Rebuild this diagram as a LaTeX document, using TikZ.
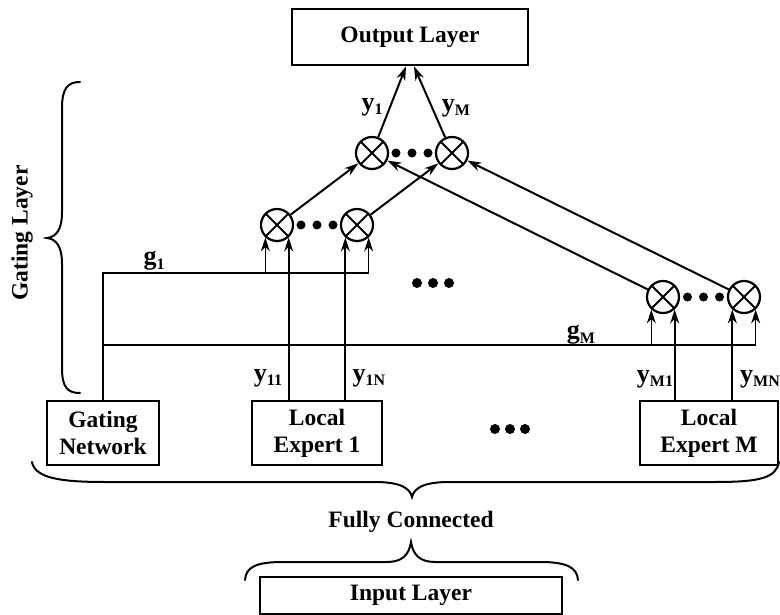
\documentclass[tikz,border=0pt]{standalone}
\usepackage{fontspec}
\setmainfont{Liberation Serif}
\usetikzlibrary{arrows.meta,calc}
% letter with a lowered subscript, as in y_11 or g_M
\newcommand\lbl[2]{#1\raisebox{-4.5pt}{\fontsize{16}{16}\selectfont #2}}
\begin{document}
\begin{tikzpicture}[x=1pt,y=-1pt,
  every node/.style={font=\fontsize{23.5}{27}\selectfont\bfseries},
  box/.style={draw,line width=2.7pt,inner sep=0pt,align=center},
  mult/.style={circle,draw,line width=2.2pt,minimum size=32pt,inner sep=0pt,
    path picture={\draw[line width=2pt]
      (path picture bounding box.north west) -- (path picture bounding box.south east)
      (path picture bounding box.north east) -- (path picture bounding box.south west);}},
  wire/.style={line width=2pt},
  gwire/.style={line width=1.5pt},
  arr/.style={-{Stealth[length=14pt,width=9pt,inset=4.5pt]}},
  lab/.style={font=\fontsize{26}{26}\selectfont\bfseries,inner sep=0pt},
  bracepath/.style={line width=2pt,line cap=round}]
\useasboundingbox (0,0) rectangle (780,615);

% layers and modules
\node[box,minimum width=236pt,minimum height=56pt] (out) at (410,37) {Output Layer};
\node[box,minimum width=112pt,minimum height=64pt] (gate) at (103,433) {Gating\\Network};
\node[box,minimum width=130pt,minimum height=64pt] (le1) at (317,433) {Local\\Expert 1};
\node[box,minimum width=138pt,minimum height=64pt] (leM) at (709,433) {Local\\Expert M};
\node[box,minimum width=302pt,minimum height=37pt] (inp) at (411,595.5) {Input Layer};

% multipliers
\node[mult] (t1) at (372,153) {};
\node[mult] (t2) at (452,153) {};
\node[mult] (a) at (277,225) {};
\node[mult] (b) at (357,225) {};
\node[mult] (c) at (663,297) {};
\node[mult] (d) at (744,297) {};

% heights of the two gate buses
\coordinate (g1) at (0,273);
\coordinate (gM) at (0,345);

% expert outputs
\draw[wire,arr] (a.-47 |- le1.north) -- (a.-47);
\draw[wire,arr] (b.-133 |- le1.north) -- (b.-133);
\draw[wire,arr] (c.-47 |- leM.north) -- (c.-47);
\draw[wire,arr] (d.-133 |- leM.north) -- (d.-133);

% gate signals
\draw[gwire,arr] (gate.north) |- (b.-47 |- g1) -- (b.-47);
\draw[gwire,arr] (a.-133 |- g1) -- (a.-133);
\draw[gwire,arr] (gate.north |- gM) -- (d.-47 |- gM) -- (d.-47);
\draw[gwire,arr] (c.-133 |- gM) -- (c.-133);

% weighted outputs to the summing multipliers
\draw[wire,arr] (a) -- (t1);
\draw[wire,arr] (b) -- (t2);
\draw[wire,arr] (c) -- (t1);
\draw[wire,arr] (d) -- (t2);

% to the output layer
\coordinate (o1) at ($(out.south)+(-4,0)$);
\coordinate (o2) at ($(out.south)+(4,0)$);
\draw[wire,arr] (t1) -- (o1);
\draw[wire,arr] (t2) -- (o2);

% ellipses
\foreach \p/\q in {t1/t2,a/b,c/d}
  \foreach \dx in {-16,0,16}
    \fill ($(\p)!0.5!(\q)+(\dx,0)$) circle (4.5pt);
\foreach \x in {417,433,449} \fill (\x,283) circle (5pt);
\foreach \x in {495,510,525} \fill (\x,429) circle (5pt);

% signal labels
\node[lab] (ly1) at (372,107) {\lbl{y}{1}};
\node[lab] (lyM) at (456,108) {\lbl{y}{M}};
\node[lab] (lg1) at (154,261) {\lbl{g}{1}};
\node[lab] (lgM) at (581,335) {\lbl{g}{M}};
\node[lab] (ly11) at (268,378) {\lbl{y}{11}};
\node[lab] (ly1N) at (369,378) {\lbl{y}{1N}};
\node[lab] (lyM1) at (655,379) {\lbl{y}{M1}};
\node[lab] (lyMN) at (760,379) {\lbl{y}{MN}};

% braces
\draw[bracepath] (80,82) .. controls (68,82) and (62,88) .. (62,108) -- (62,212)
  .. controls (62,230) and (56,237) .. (47,238)
  .. controls (56,239) and (62,246) .. (62,264) -- (62,368)
  .. controls (62,388) and (68,393) .. (80,393);
\node[rotate=90] (gl) at (22,233) {Gating Layer};

\draw[bracepath] (32,462) .. controls (35,478) and (60,482) .. (105,482) -- (375,482)
  .. controls (400,482) and (410,488) .. (412,497)
  .. controls (414,488) and (424,482) .. (449,482) -- (715,482)
  .. controls (760,482) and (776,478) .. (779,462);
\node (fc) at (411,522) {Fully Connected};
\draw[bracepath] (245,580) .. controls (246,567) and (256,562) .. (283,562) -- (387,562)
  .. controls (402,562) and (409,555) .. (411,542)
  .. controls (413,555) and (420,562) .. (435,562) -- (540,562)
  .. controls (566,562) and (577,567) .. (578,580);
\end{tikzpicture}
\end{document}
